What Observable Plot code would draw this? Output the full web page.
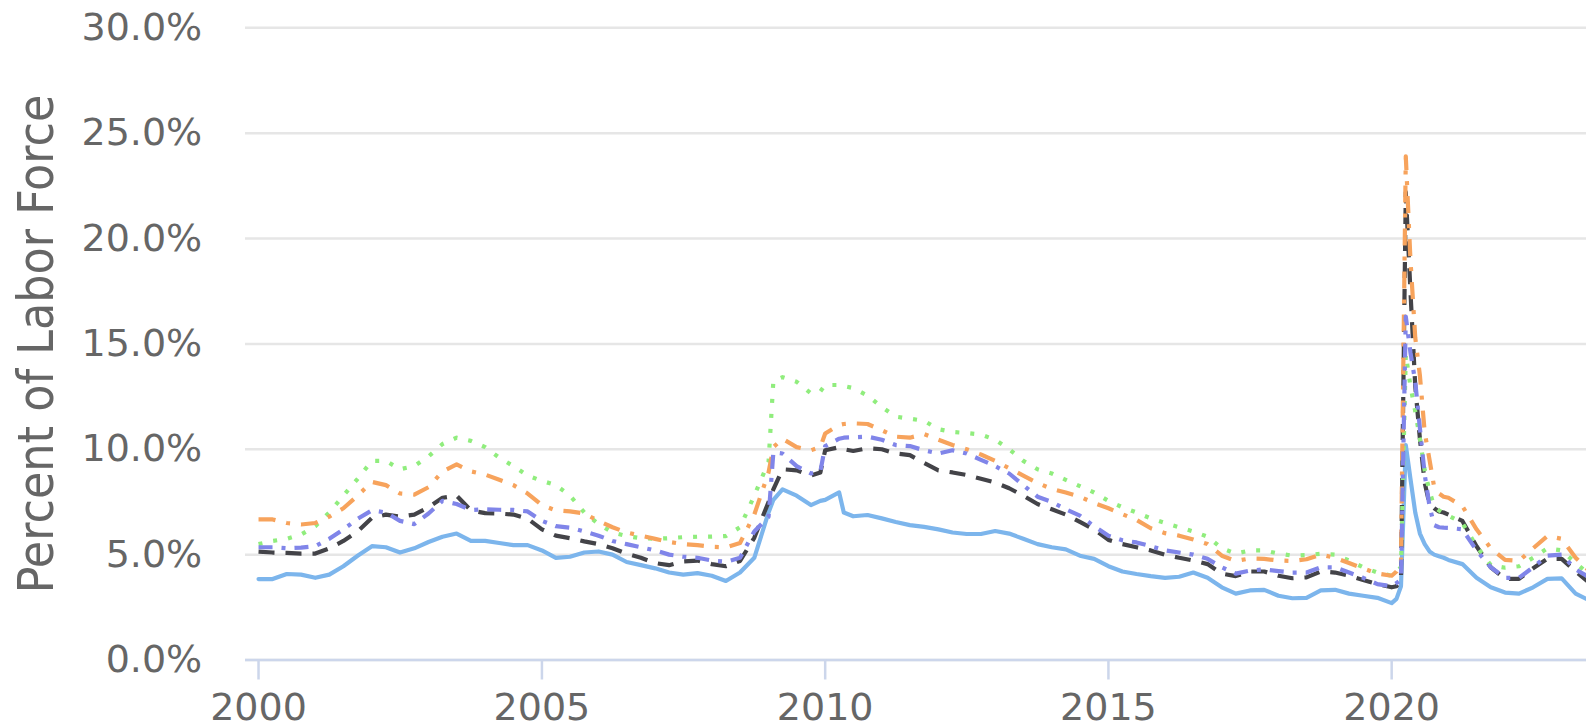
<!DOCTYPE html>
<html><head><meta charset="utf-8">
<script src="https://cdn.jsdelivr.net/npm/d3@7"></script>
<script src="https://cdn.jsdelivr.net/npm/@observablehq/plot@0.6"></script>
<style>html,body{margin:0;padding:0;background:#fff;overflow:hidden}</style>
</head><body><div id="chart"></div>
<script>
const months = [
  "2000-01","2000-04","2000-07","2000-10",
  "2001-01","2001-04","2001-07","2001-10",
  "2002-01","2002-04","2002-07","2002-10",
  "2003-01","2003-04","2003-07","2003-10",
  "2004-01","2004-04","2004-07","2004-10",
  "2005-01","2005-04","2005-07","2005-10",
  "2006-01","2006-04","2006-07","2006-10",
  "2007-01","2007-04","2007-07","2007-10",
  "2008-01","2008-04","2008-07","2008-10",
  "2009-01","2009-02","2009-04","2009-07","2009-10","2009-12",
  "2010-01","2010-04","2010-05","2010-07","2010-10",
  "2011-01","2011-04","2011-07","2011-10",
  "2012-01","2012-04","2012-07","2012-10",
  "2013-01","2013-04","2013-07","2013-10",
  "2014-01","2014-04","2014-07","2014-10",
  "2015-01","2015-04","2015-07","2015-10",
  "2016-01","2016-04","2016-07","2016-10",
  "2017-01","2017-04","2017-07","2017-10",
  "2018-01","2018-04","2018-07","2018-10",
  "2019-01","2019-04","2019-07","2019-10",
  "2020-01","2020-02","2020-03","2020-04","2020-05","2020-06","2020-07","2020-08","2020-09","2020-10","2020-11","2020-12",
  "2021-01","2021-04","2021-07","2021-10",
  "2022-01","2022-04","2022-07","2022-10",
  "2023-01","2023-04","2023-07"
];

const seriesNames = ["Series 1", "Series 2", "Series 3", "Series 4", "Series 5"];

const series1 = [ // light blue, solid
  3.84, 3.84, 4.08, 4.05,
  3.9, 4.05, 4.45, 4.95,
  5.4, 5.35, 5.1, 5.3,
  5.6, 5.85, 6.0, 5.65,
  5.65, 5.55, 5.45, 5.45,
  5.2, 4.85, 4.9, 5.1,
  5.15, 5.0, 4.65, 4.5,
  4.35, 4.15, 4.05, 4.12,
  4.0, 3.75, 4.15, 4.85,
  7.0, 7.6, 8.1, 7.8, 7.35, 7.55,
  7.6, 7.95, 7.0, 6.82, 6.88,
  6.72, 6.55, 6.4, 6.32,
  6.2, 6.05, 5.98, 5.98,
  6.12, 6.0, 5.75, 5.5,
  5.35, 5.25, 4.95, 4.8,
  4.45, 4.2, 4.08, 3.98,
  3.9, 3.95, 4.15, 3.9,
  3.45, 3.15, 3.3, 3.33,
  3.05, 2.93, 2.95, 3.3,
  3.33, 3.15, 3.05, 2.95,
  2.7, 2.9, 3.5, 10.2, 8.6, 7.0, 6.0, 5.5, 5.15, 5.0, 4.92, 4.85,
  4.75, 4.55, 3.9, 3.45,
  3.2, 3.15, 3.45, 3.85,
  3.87, 3.15, 2.82
];

const series2 = [ // dark, dashed
  5.14, 5.1, 5.08, 5.05,
  5.05, 5.3, 5.65, 6.1,
  6.75, 6.9, 6.8, 6.9,
  7.25, 7.7, 7.8, 7.1,
  6.97, 6.95, 6.9, 6.7,
  6.2, 5.9, 5.78, 5.63,
  5.5, 5.3, 5.05, 4.85,
  4.6, 4.5, 4.68, 4.72,
  4.55, 4.45, 4.7, 5.8,
  7.5, 8.1, 9.05, 9.0, 8.75, 8.9,
  9.95, 10.1, 10.0, 9.92, 10.05,
  10.0, 9.8, 9.72, 9.35,
  9.0, 8.9, 8.78, 8.6,
  8.42, 8.15, 7.8, 7.4,
  7.15, 6.9, 6.55, 6.2,
  5.7, 5.5, 5.35, 5.2,
  5.0, 4.85, 4.72, 4.55,
  4.1, 3.98, 4.2, 4.2,
  4.0, 3.88, 3.92, 4.2,
  4.15, 4.0, 3.8, 3.6,
  3.45, 3.5, 3.8, 22.2, 17.5, 13.0, 10.5, 8.4, 7.4, 7.2, 7.05, 7.0,
  6.9, 6.6, 5.4, 4.4,
  3.85, 3.85, 4.35, 4.8,
  4.8, 4.2, 3.65
];

const series3 = [ // green, dotted
  5.5, 5.65, 5.75, 5.95,
  6.35, 7.0, 7.8, 8.6,
  9.45, 9.45, 9.05, 9.2,
  9.66, 10.25, 10.55, 10.4,
  10.1, 9.6, 9.2, 8.75,
  8.5, 8.3, 7.8, 7.0,
  6.45, 6.05, 5.88, 5.78,
  5.75, 5.78, 5.83, 5.85,
  5.85, 5.88, 6.3, 7.8,
  9.4, 13.25, 13.42, 13.2, 12.65, 12.75,
  13.05, 13.05, 13.0, 12.9, 12.55,
  12.0, 11.55, 11.45, 11.35,
  10.95, 10.82, 10.77, 10.7,
  10.45, 10.0, 9.45, 9.05,
  8.85, 8.55, 8.25, 7.95,
  7.55, 7.25, 7.0, 6.72,
  6.5, 6.3, 6.1, 5.85,
  5.3, 5.05, 5.2, 5.2,
  5.05, 4.95, 4.98, 5.04,
  5.0, 4.72, 4.4, 4.15,
  4.0, 4.2, 4.4, 14.5, 13.0, 11.8, 10.5, 9.0, 8.0, 7.3, 7.1, 6.95,
  6.85, 6.5, 5.4, 4.5,
  4.38, 4.45, 4.85, 5.3,
  5.2, 4.6, 4.05
];

const series4 = [ // orange, dash-dot
  6.67, 6.67, 6.5, 6.43,
  6.5, 6.8, 7.2, 7.8,
  8.45, 8.3, 7.9, 7.85,
  8.2, 8.95, 9.28, 8.95,
  8.8, 8.55, 8.3, 7.9,
  7.35, 7.1, 7.05, 6.95,
  6.6, 6.3, 6.05, 5.9,
  5.75, 5.6, 5.5, 5.45,
  5.37, 5.35, 5.55, 6.9,
  8.9, 10.1, 10.5, 10.1, 9.95, 10.1,
  10.75, 11.15, 11.2, 11.23, 11.2,
  10.9, 10.6, 10.55, 10.72,
  10.45, 10.2, 10.0, 9.75,
  9.45, 9.1, 8.75, 8.4,
  8.12, 7.95, 7.75, 7.45,
  7.2, 6.92, 6.65, 6.25,
  6.02, 5.9, 5.72, 5.5,
  4.95, 4.7, 4.82, 4.8,
  4.72, 4.7, 4.78, 5.0,
  4.85, 4.6, 4.35, 4.1,
  4.0, 4.2, 4.6, 23.9, 19.0, 15.3, 13.5, 10.8, 9.5, 8.2, 7.9, 7.75,
  7.7, 7.3, 6.2, 5.3,
  4.75, 4.7, 5.3, 5.88,
  5.75, 4.85, 4.2
];

const series5 = [ // purple, dash-dot
  5.35, 5.35, 5.3, 5.33,
  5.4, 5.75, 6.2, 6.7,
  7.1, 7.0, 6.6, 6.45,
  6.95, 7.55, 7.4, 7.12,
  7.15, 7.13, 7.12, 7.05,
  6.6, 6.35, 6.28, 6.1,
  5.9, 5.65, 5.5, 5.35,
  5.2, 5.0, 4.9, 4.85,
  4.72, 4.66, 4.85, 6.1,
  6.8, 9.85, 9.8, 9.2, 8.85, 8.95,
  10.15, 10.5, 10.55, 10.57, 10.6,
  10.45, 10.2, 10.15, 9.95,
  9.8, 9.95, 9.8, 9.5,
  9.2, 8.85, 8.3, 7.75,
  7.5, 7.15, 6.85, 6.35,
  5.9, 5.68, 5.58, 5.4,
  5.2, 5.1, 5.0, 4.8,
  4.4, 4.1, 4.24, 4.3,
  4.22, 4.15, 4.15, 4.4,
  4.4, 4.15, 3.9, 3.6,
  3.5, 3.65, 3.8, 16.3, 14.6, 13.2, 11.0, 8.8, 7.3, 6.4, 6.3, 6.28,
  6.27, 6.2, 5.2, 4.4,
  3.9, 3.9, 4.4, 4.95,
  5.0, 4.3, 3.9
];

const yTicks = [0, 5, 10, 15, 20, 25, 30];
const xTickYears = [2000, 2005, 2010, 2015, 2020];
const yTitle = "Percent of Labor Force";

const parse = d3.utcParse("%Y-%m");
const dates = months.map(parse);
const rows = (values, name) => dates.map((date, i) => ({date, value: values[i], series: name}));
const xTickDates = xTickYears.map(y => new Date(Date.UTC(y, 0, 1)));

const seriesStyles = [
  {values: series1, color: "#7cb5ec", dash: null},
  {values: series2, color: "#434348", dash: "16,11"},
  {values: series3, color: "#90ed7d", dash: "4,11"},
  {values: series4, color: "#f7a35c", dash: "17,11,4,11"},
  {values: series5, color: "#8085e9", dash: "14,9,4,9"}
];

const lineMarks = seriesStyles.map((s, k) => Plot.line(rows(s.values, seriesNames[k]), {
  x: "date", y: "value", stroke: s.color, strokeWidth: 4.2,
  strokeDasharray: s.dash || undefined,
  strokeLinejoin: "round", strokeLinecap: s.dash ? "butt" : "round",
  clip: true
}));

const chart = Plot.plot({
  width: 1586, height: 724,
  marginLeft: 245, marginRight: 0, marginTop: 27.3, marginBottom: 64.5,
  style: {fontFamily: "'DejaVu Sans', sans-serif", background: "#ffffff"},
  x: {type: "utc", domain: [new Date(Date.UTC(1999, 9, 9)), new Date(Date.UTC(2023, 5, 10))]},
  y: {domain: [0, 30]},
  marks: [
    Plot.gridY(yTicks, {stroke: "#e6e6e6", strokeOpacity: 1, strokeWidth: 2.5}),
    Plot.ruleY([0], {stroke: "#ccd6eb", strokeWidth: 2.5}),
    Plot.axisY(yTicks, {tickSize: 0, tickPadding: 43.3, tickFormat: d => d.toFixed(1) + "%",
      fill: "#666666", fontSize: 38, label: null}),
    Plot.axisX(xTickDates, {tickSize: 20, tickPadding: 13, stroke: "#ccd6eb", strokeWidth: 2.5,
      fill: "#666666", fontSize: 38, tickFormat: d3.utcFormat("%Y"), label: null}),
    Plot.text([yTitle], {text: d => d, frameAnchor: "left", dx: -208.7, rotate: -90,
      textAnchor: "middle", lineAnchor: "middle", fontSize: 49.5,
      fontFamily: "'DejaVu Sans Condensed', 'DejaVu Sans', sans-serif", fill: "#666666"}),
    ...lineMarks
  ]
});
document.getElementById("chart").appendChild(chart);
</script>
</body></html>
